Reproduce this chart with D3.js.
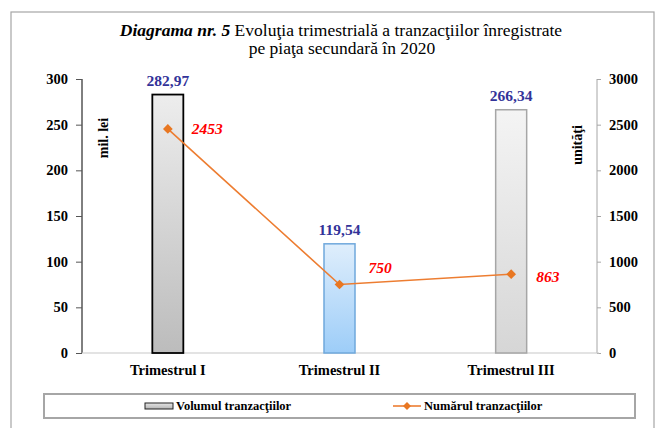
<!DOCTYPE html>
<html>
<head>
<meta charset="utf-8">
<script src="https://cdn.jsdelivr.net/npm/d3@7"></script>
<style>
  body { margin: 0; background: #fff; }
  svg text { font-family: "Liberation Serif", "Times New Roman", serif; }
</style>
</head>
<body>
<div id="chart"></div>
<script>
// ── Data ─────────────────────────────────────────────────────────
const quarters     = ["Trimestrul I", "Trimestrul II", "Trimestrul III"];
const volumeValues = [282.97, 119.54, 266.34];   // mil. lei
const countValues  = [2453, 750, 863];           // unităţi
const leftTicks    = [0, 50, 100, 150, 200, 250, 300];
const rightTicks   = [0, 500, 1000, 1500, 2000, 2500, 3000];

const W = 660, H = 428;
const margin = { top: 79, right: 63, bottom: 75, left: 82 };
const plotW = W - margin.left - margin.right;
const plotH = H - margin.top - margin.bottom;
const SERIF = "Liberation Serif";

const fmt = d3.format(".2f");
const comma = v => fmt(v).replace(".", ",");

// bar fills: gray, light blue, light gray
const barStyles = [
  { id: "g1", top: "#ededed", bottom: "#bcbcbc", stroke: "#000000", sw: 1.8 },
  { id: "g2", top: "#dfeefc", bottom: "#9dcdf8", stroke: "#6fa8dc", sw: 1.5 },
  { id: "g3", top: "#f4f4f4", bottom: "#d6d6d6", stroke: "#a6a6a6", sw: 1.5 },
];
// label nudges (Excel put them by hand)
const countLabelNudge = [[24, 5], [29, -12], [25, 8]];

const svg = d3.select("#chart").append("svg")
  .attr("width", W).attr("height", H)
  .attr("font-family", SERIF);

const defs = svg.append("defs");
barStyles.forEach(s => {
  const gr = defs.append("linearGradient").attr("id", s.id)
    .attr("x1", 0).attr("y1", 0).attr("x2", 0).attr("y2", 1);
  gr.append("stop").attr("offset", "0%").attr("stop-color", s.top);
  gr.append("stop").attr("offset", "100%").attr("stop-color", s.bottom);
});

// outer frame
svg.append("rect")
  .attr("x", 11).attr("y", 12).attr("width", 643).attr("height", 440)
  .attr("fill", "none").attr("stroke", "#a6a6a6").attr("stroke-width", 1.2);

// ── Title ──────────────────────────────────────────────────────
const title = svg.append("text")
  .attr("x", 341).attr("y", 36)
  .attr("text-anchor", "middle")
  .attr("font-family", SERIF)
  .style("font-size", "17.5px")
  .style("fill", "#000");
title.append("tspan").style("font-weight", "700").style("font-style", "italic")
  .text("Diagrama nr. 5");
title.append("tspan").text(" Evoluţia trimestrială a tranzacţiilor înregistrate");
svg.append("text")
  .attr("x", 342).attr("y", 54)
  .attr("text-anchor", "middle")
  .attr("font-family", SERIF)
  .style("font-size", "17.5px")
  .text("pe piaţa secundară în 2020");

const g = svg.append("g").attr("transform", `translate(${margin.left},${margin.top})`);

// ── Scales ─────────────────────────────────────────────────────
const x = d3.scaleBand().domain(quarters).range([0, plotW]).paddingInner(0).paddingOuter(0);
const yL = d3.scaleLinear().domain([0, 300]).range([plotH, 0]);
const yR = d3.scaleLinear().domain([0, 3000]).range([plotH, 0]);
const barW = 31;

const styleTicks = a => a.selectAll("text")
  .attr("font-family", SERIF)
  .style("font-size", "14.5px").style("font-weight", "700").attr("fill", "#000");

// ── Axes ───────────────────────────────────────────────────────
g.append("g")
  .attr("font-family", SERIF)
  .call(d3.axisLeft(yL).tickValues(leftTicks).tickSize(6).tickPadding(8).tickFormat(d3.format("d")))
  .call(a => a.select(".domain").attr("stroke", "#000").attr("d", `M0,${plotH}V0`))
  .call(a => a.selectAll(".tick line").attr("stroke", "#555"))
  .call(styleTicks);

g.append("g")
  .attr("font-family", SERIF)
  .attr("transform", `translate(${plotW},0)`)
  .call(d3.axisRight(yR).tickValues(rightTicks).tickSize(4).tickPadding(8).tickFormat(d3.format("d")))
  .call(a => a.select(".domain").attr("stroke", "#a6a6a6").attr("d", `M0,${plotH}V0`))
  .call(a => a.selectAll(".tick line").attr("stroke", "#a6a6a6"))
  .call(styleTicks);

g.append("g")
  .attr("font-family", SERIF)
  .attr("transform", `translate(0,${plotH})`)
  .call(d3.axisBottom(x).tickSize(0).tickPadding(12))
  .call(a => a.select(".domain").attr("stroke", "#c8c8c8").attr("stroke-width", 1.2).attr("d", `M0,0H${plotW + 2}`))
  .call(styleTicks);

// axis titles
g.append("text")
  .attr("transform", `translate(23,59) rotate(-90)`)
  .attr("text-anchor", "middle").attr("dominant-baseline", "middle")
  .style("font-size", "14px").style("font-weight", "700")
  .text("mil. lei");
g.append("text")
  .attr("transform", `translate(${plotW - 18},66) rotate(-90)`)
  .attr("text-anchor", "middle").attr("dominant-baseline", "middle")
  .style("font-size", "14px").style("font-weight", "700")
  .text("unităţi");

// ── Bars ───────────────────────────────────────────────────────
g.selectAll(".bar")
  .data(quarters).enter().append("rect")
  .attr("class", "bar")
  .attr("x", d => x(d) + x.bandwidth() / 2 - barW / 2)
  .attr("width", barW)
  .attr("y", (d, i) => yL(volumeValues[i]))
  .attr("height", (d, i) => plotH - yL(volumeValues[i]))
  .attr("fill", (d, i) => `url(#${barStyles[i].id})`)
  .attr("stroke", (d, i) => barStyles[i].stroke)
  .attr("stroke-width", (d, i) => barStyles[i].sw);

g.selectAll(".vol-label")
  .data(quarters).enter().append("text")
  .attr("class", "vol-label")
  .attr("x", d => x(d) + x.bandwidth() / 2)
  .attr("y", (d, i) => yL(volumeValues[i]) - 9)
  .attr("text-anchor", "middle")
  .style("font-size", "15.5px").style("font-weight", "700")
  .style("fill", "#333399")
  .text((d, i) => comma(volumeValues[i]));

// ── Line ───────────────────────────────────────────────────────
const linePts = quarters.map((q, i) => [x(q) + x.bandwidth() / 2, yR(countValues[i])]);
g.append("path")
  .datum(linePts)
  .attr("fill", "none")
  .attr("stroke", "#ed7d31")
  .attr("stroke-width", 1.6)
  .attr("d", d3.line());

g.selectAll(".diamond")
  .data(linePts).enter().append("path")
  .attr("class", "diamond")
  .attr("transform", d => `translate(${d[0]},${d[1]})`)
  .attr("d", d3.symbol(d3.symbolDiamond2, 60))
  .attr("fill", "#e87722");

g.selectAll(".cnt-label")
  .data(linePts).enter().append("text")
  .attr("class", "cnt-label")
  .attr("x", (d, i) => d[0] + countLabelNudge[i][0])
  .attr("y", (d, i) => d[1] + countLabelNudge[i][1])
  .style("font-size", "15.5px").style("font-weight", "700").style("font-style", "italic")
  .style("fill", "#ff0000")
  .text((d, i) => countValues[i]);

// ── Legend ─────────────────────────────────────────────────────
const lg = svg.append("g");
lg.append("rect")
  .attr("x", 44).attr("y", 394).attr("width", 591).attr("height", 24)
  .attr("fill", "#fff").attr("stroke", "#a6a6a6").attr("stroke-width", 2);

const legendBarGrad = defs.append("linearGradient").attr("id", "lgbar")
  .attr("x1", 0).attr("y1", 0).attr("x2", 0).attr("y2", 1);
legendBarGrad.append("stop").attr("offset", "0%").attr("stop-color", "#e6e6e6");
legendBarGrad.append("stop").attr("offset", "100%").attr("stop-color", "#b5b5b5");

lg.append("rect")
  .attr("x", 145).attr("y", 403).attr("width", 28).attr("height", 6)
  .attr("fill", "url(#lgbar)").attr("stroke", "#222").attr("stroke-width", 1);
lg.append("text")
  .attr("x", 176).attr("y", 410)
  .style("font-size", "12.5px").style("font-weight", "700")
  .text("Volumul tranzacţiilor");

lg.append("line")
  .attr("x1", 393).attr("x2", 421).attr("y1", 406).attr("y2", 406)
  .attr("stroke", "#ed7d31").attr("stroke-width", 1.6);
lg.append("path")
  .attr("transform", "translate(407,406)")
  .attr("d", d3.symbol(d3.symbolDiamond2, 40))
  .attr("fill", "#e87722");
lg.append("text")
  .attr("x", 424).attr("y", 410)
  .style("font-size", "12.5px").style("font-weight", "700")
  .text("Numărul tranzacţiilor");
</script>
</body>
</html>
